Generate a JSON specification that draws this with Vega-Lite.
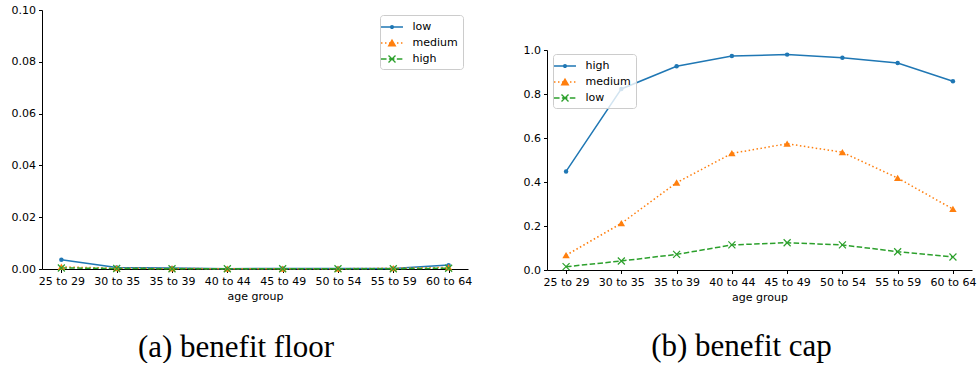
{
  "$schema": "https://vega.github.io/schema/vega-lite/v6.json",
  "padding": {"left": 11, "top": 4, "right": 4, "bottom": 0},
  "background": "white",
  "spacing": 51,
  "resolve": {
    "scale": {"color": "independent", "shape": "independent"},
    "legend": {"color": "independent", "shape": "independent"}
  },
  "datasets": {
    "floor": [
      {"age": "25 to 29", "series": "low", "value": 0.0036},
      {"age": "30 to 35", "series": "low", "value": 0.0006},
      {"age": "35 to 39", "series": "low", "value": 0.0004},
      {"age": "40 to 44", "series": "low", "value": 0.0001},
      {"age": "45 to 49", "series": "low", "value": 0.0002},
      {"age": "50 to 54", "series": "low", "value": 0.0002},
      {"age": "55 to 59", "series": "low", "value": 0.0002},
      {"age": "60 to 64", "series": "low", "value": 0.0015},
      {"age": "25 to 29", "series": "medium", "value": 0.0008},
      {"age": "30 to 35", "series": "medium", "value": 0.0003},
      {"age": "35 to 39", "series": "medium", "value": 0.0002},
      {"age": "40 to 44", "series": "medium", "value": 0.0001},
      {"age": "45 to 49", "series": "medium", "value": 0.0001},
      {"age": "50 to 54", "series": "medium", "value": 0.0001},
      {"age": "55 to 59", "series": "medium", "value": 0.0003},
      {"age": "60 to 64", "series": "medium", "value": 0.0006},
      {"age": "25 to 29", "series": "high", "value": 0.0004},
      {"age": "30 to 35", "series": "high", "value": 0.0002},
      {"age": "35 to 39", "series": "high", "value": 0.0001},
      {"age": "40 to 44", "series": "high", "value": 0.0001},
      {"age": "45 to 49", "series": "high", "value": 0.0001},
      {"age": "50 to 54", "series": "high", "value": 0.0001},
      {"age": "55 to 59", "series": "high", "value": 0.0001},
      {"age": "60 to 64", "series": "high", "value": 0.0003}
    ],
    "cap": [
      {"age": "25 to 29", "series": "high", "value": 0.448},
      {"age": "30 to 35", "series": "high", "value": 0.823},
      {"age": "35 to 39", "series": "high", "value": 0.926},
      {"age": "40 to 44", "series": "high", "value": 0.973},
      {"age": "45 to 49", "series": "high", "value": 0.979},
      {"age": "50 to 54", "series": "high", "value": 0.965},
      {"age": "55 to 59", "series": "high", "value": 0.941},
      {"age": "60 to 64", "series": "high", "value": 0.858},
      {"age": "25 to 29", "series": "medium", "value": 0.067},
      {"age": "30 to 35", "series": "medium", "value": 0.212},
      {"age": "35 to 39", "series": "medium", "value": 0.397},
      {"age": "40 to 44", "series": "medium", "value": 0.530},
      {"age": "45 to 49", "series": "medium", "value": 0.574},
      {"age": "50 to 54", "series": "medium", "value": 0.535},
      {"age": "55 to 59", "series": "medium", "value": 0.418},
      {"age": "60 to 64", "series": "medium", "value": 0.277},
      {"age": "25 to 29", "series": "low", "value": 0.015},
      {"age": "30 to 35", "series": "low", "value": 0.041},
      {"age": "35 to 39", "series": "low", "value": 0.071},
      {"age": "40 to 44", "series": "low", "value": 0.114},
      {"age": "45 to 49", "series": "low", "value": 0.124},
      {"age": "50 to 54", "series": "low", "value": 0.114},
      {"age": "55 to 59", "series": "low", "value": 0.083},
      {"age": "60 to 64", "series": "low", "value": 0.059}
    ]
  },
  "hconcat": [
    {
      "width": 426,
      "height": 259,
      "data": {"name": "floor"},
      "title": {"text": "(a) benefit floor", "orient": "bottom", "anchor": "middle", "font": "Liberation Serif", "fontSize": 31, "fontWeight": "normal", "color": "black", "offset": 31, "dx": -19},
      "encoding": {
        "x": {"field": "age", "type": "ordinal",
          "scale": {"type": "point", "padding": 0.35, "domain": ["25 to 29", "30 to 35", "35 to 39", "40 to 44", "45 to 49", "50 to 54", "55 to 59", "60 to 64"]},
          "axis": {"title": "age group", "labelAngle": 0}},
        "y": {"field": "value", "type": "quantitative",
          "scale": {"domain": [0, 0.1], "nice": false, "zero": true},
          "axis": {"title": null, "values": [0, 0.02, 0.04, 0.06, 0.08, 0.1], "format": ".2f"}}
      },
      "layer": [
        {"transform": [{"filter": "datum.series == 'low'"}], "mark": {"type": "line", "strokeWidth": 1.5, "color": "#1f77b4"}, "encoding": {}},
        {"transform": [{"filter": "datum.series == 'medium'"}], "mark": {"type": "line", "strokeWidth": 1.5, "color": "#ff7f0e", "strokeDash": [1.5, 2.5]}, "encoding": {}},
        {"transform": [{"filter": "datum.series == 'high'"}], "mark": {"type": "line", "strokeWidth": 1.5, "color": "#2ca02c", "strokeDash": [5.5, 2.4]}, "encoding": {}},
        {"transform": [{"filter": "datum.series == 'low'"}], "mark": {"type": "point", "shape": "circle", "filled": true, "size": 20, "color": "#1f77b4", "opacity": 1}},
        {"transform": [{"filter": "datum.series == 'medium'"}], "mark": {"type": "point", "shape": "M0,-0.9L1,0.8L-1,0.8Z", "filled": true, "size": 55, "color": "#ff7f0e", "opacity": 1}},
        {"transform": [{"filter": "datum.series == 'high'"}], "mark": {"type": "point", "shape": "M-1,-1L1,1M-1,1L1,-1", "filled": false, "size": 49, "color": "#2ca02c", "strokeWidth": 1.2, "opacity": 1}},
        {
          "transform": [{"filter": "datum.value < 0"}],
          "mark": {"type": "point", "filled": true, "size": 196, "opacity": 1, "strokeWidth": 0},
          "encoding": {
            "color": {"field": "series", "type": "nominal",
              "scale": {"domain": ["low", "medium", "high"], "range": ["#1f77b4", "#ff7f0e", "#2ca02c"]},
              "legend": {"title": null, "orient": "none", "legendX": 338, "legendY": 5, "symbolSize": 196, "labelOffset": 13.5}},
            "shape": {"field": "series", "type": "nominal",
              "scale": {"domain": ["low", "medium", "high"],
                "range": [
                  "M-1.57,-0.1H1.57V0.1H-1.57ZM0.3,0A0.3,0.3 0 1 1 -0.3,0A0.3,0.3 0 1 1 0.3,0Z",
                  "M-1.57,-0.1H-1.36V0.1H-1.57ZM-1,-0.1H-0.79V0.1H-1ZM-0.43,-0.1H-0.22V0.1H-0.43ZM0.71,-0.1H0.92V0.1H0.71ZM1.28,-0.1H1.49V0.1H1.28ZM0,-0.62L0.64,0.5L-0.64,0.5Z",
                  "M-1.57,-0.1H-0.78V0.1H-1.57ZM-0.44,-0.1H0.35V0.1H-0.44ZM0.69,-0.1H1.48V0.1H0.69ZM-0.43,-0.57L0.57,0.43L0.43,0.57L-0.57,-0.43ZM-0.57,0.43L0.43,-0.57L0.57,-0.43L-0.43,0.57Z"
                ]},
              "legend": {"title": null, "orient": "none", "legendX": 338, "legendY": 5, "symbolSize": 196, "labelOffset": 13.5}}
          }
        }
      ]
    },
    {
      "spacing": 0,
      "vconcat": [
        {
          "width": 425,
          "height": 34,
          "data": {"values": [{"spacer": 1}]},
          "mark": {"type": "point", "opacity": 0},
          "encoding": {}
        },
        {
          "width": 425,
          "height": 220,
          "data": {"name": "cap"},
          "title": {"text": "(b) benefit cap", "orient": "bottom", "anchor": "middle", "font": "Liberation Serif", "fontSize": 31, "fontWeight": "normal", "color": "black", "offset": 29, "dx": -18},
          "encoding": {
            "x": {"field": "age", "type": "ordinal",
              "scale": {"type": "point", "padding": 0.345, "domain": ["25 to 29", "30 to 35", "35 to 39", "40 to 44", "45 to 49", "50 to 54", "55 to 59", "60 to 64"]},
              "axis": {"title": "age group", "labelAngle": 0}},
            "y": {"field": "value", "type": "quantitative",
              "scale": {"domain": [0, 1], "nice": false, "zero": true},
              "axis": {"title": null, "values": [0, 0.2, 0.4, 0.6, 0.8, 1.0], "format": ".1f"}}
          },
          "layer": [
            {"transform": [{"filter": "datum.series == 'high'"}], "mark": {"type": "line", "strokeWidth": 1.5, "color": "#1f77b4"}, "encoding": {}},
            {"transform": [{"filter": "datum.series == 'medium'"}], "mark": {"type": "line", "strokeWidth": 1.5, "color": "#ff7f0e", "strokeDash": [1.5, 2.5]}, "encoding": {}},
            {"transform": [{"filter": "datum.series == 'low'"}], "mark": {"type": "line", "strokeWidth": 1.5, "color": "#2ca02c", "strokeDash": [5.5, 2.4]}, "encoding": {}},
            {"transform": [{"filter": "datum.series == 'high'"}], "mark": {"type": "point", "shape": "circle", "filled": true, "size": 20, "color": "#1f77b4", "opacity": 1}},
            {"transform": [{"filter": "datum.series == 'medium'"}], "mark": {"type": "point", "shape": "M0,-0.9L1,0.8L-1,0.8Z", "filled": true, "size": 55, "color": "#ff7f0e", "opacity": 1}},
            {"transform": [{"filter": "datum.series == 'low'"}], "mark": {"type": "point", "shape": "M-1,-1L1,1M-1,1L1,-1", "filled": false, "size": 49, "color": "#2ca02c", "strokeWidth": 1.2, "opacity": 1}},
            {
              "transform": [{"filter": "datum.value < 0"}],
              "mark": {"type": "point", "filled": true, "size": 196, "opacity": 1, "strokeWidth": 0},
              "encoding": {
                "color": {"field": "series", "type": "nominal",
                  "scale": {"domain": ["high", "medium", "low"], "range": ["#1f77b4", "#ff7f0e", "#2ca02c"]},
                  "legend": {"title": null, "orient": "none", "legendX": 6, "legendY": 44, "symbolSize": 196, "labelOffset": 13.5}},
                "shape": {"field": "series", "type": "nominal",
                  "scale": {"domain": ["high", "medium", "low"],
                    "range": [
                      "M-1.57,-0.1H1.57V0.1H-1.57ZM0.3,0A0.3,0.3 0 1 1 -0.3,0A0.3,0.3 0 1 1 0.3,0Z",
                      "M-1.57,-0.1H-1.36V0.1H-1.57ZM-1,-0.1H-0.79V0.1H-1ZM-0.43,-0.1H-0.22V0.1H-0.43ZM0.71,-0.1H0.92V0.1H0.71ZM1.28,-0.1H1.49V0.1H1.28ZM0,-0.62L0.64,0.5L-0.64,0.5Z",
                      "M-1.57,-0.1H-0.78V0.1H-1.57ZM-0.44,-0.1H0.35V0.1H-0.44ZM0.69,-0.1H1.48V0.1H0.69ZM-0.43,-0.57L0.57,0.43L0.43,0.57L-0.57,-0.43ZM-0.57,0.43L0.43,-0.57L0.57,-0.43L-0.43,0.57Z"
                    ]},
                  "legend": {"title": null, "orient": "none", "legendX": 6, "legendY": 44, "symbolSize": 196, "labelOffset": 13.5}}
              }
            }
          ]
        }
      ]
    }
  ],
  "config": {
    "view": {"stroke": null},
    "axis": {
      "grid": false,
      "domainColor": "black", "domainWidth": 1,
      "tickColor": "black", "tickWidth": 1, "tickSize": 3.5,
      "labelColor": "black", "labelFont": "DejaVu Sans", "labelFontSize": 11, "labelPadding": 3,
      "titleColor": "black", "titleFont": "DejaVu Sans", "titleFontSize": 11, "titleFontWeight": "normal", "titlePadding": 4
    },
    "legend": {
      "labelFont": "DejaVu Sans", "labelFontSize": 11, "labelColor": "black",
      "strokeColor": "#cccccc", "fillColor": "rgba(255,255,255,0.8)", "cornerRadius": 3,
      "padding": 5, "rowPadding": 4, "symbolStrokeWidth": 0
    }
  }
}
